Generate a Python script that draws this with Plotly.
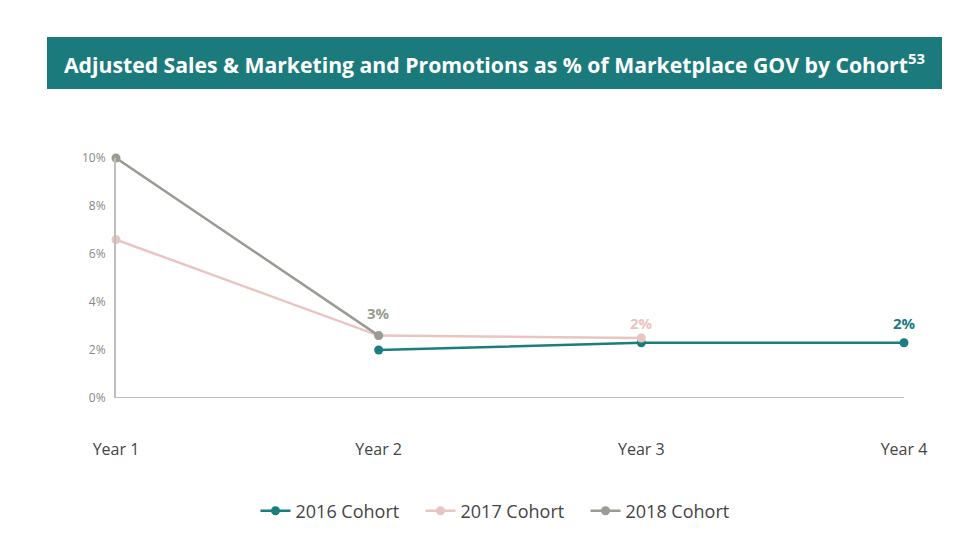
import plotly.graph_objects as go

years = ["Year 1", "Year 2", "Year 3", "Year 4"]
cohort_2016 = [None, 2.0, 2.3, 2.3]
cohort_2017 = [6.6, 2.6, 2.5, None]
cohort_2018 = [10.0, 2.6, None, None]
y_ticks = [0, 2, 4, 6, 8, 10]
y_tick_labels = ["0%", "2%", "4%", "6%", "8%", "10%"]

# (series index, year index, label)
labels = [(2, 1, "3%"), (1, 2, "2%"), (0, 3, "2%")]
label_shifts = [23, 15, 20]

series = [
    ("2016 Cohort", cohort_2016, "#1b7d7e"),
    ("2017 Cohort", cohort_2017, "#e8c5c1"),
    ("2018 Cohort", cohort_2018, "#9a9b93"),
]

FONT = "Open Sans"

fig = go.Figure()
for name, vals, color in series:
    fig.add_trace(go.Scatter(
        x=years, y=vals, name=name, mode="lines+markers",
        line=dict(color=color, width=2.5),
        marker=dict(color=color, size=9),
        cliponaxis=False,
    ))

for (si, yi, txt), sh in zip(labels, label_shifts):
    name, vals, color = series[si]
    fig.add_annotation(x=years[yi], y=vals[yi], text="<b>" + txt + "</b>",
                       showarrow=False, yshift=sh,
                       font=dict(family=FONT, size=15, color=color))

W, H = 977, 554
L, R, T, B = 116, 73, 158, 156
pw, ph = W - L - R, H - T - B

def px(x):
    return (x - L) / pw

def py(y):
    return (H - B - y) / ph

fig.add_shape(type="rect", xref="paper", yref="paper",
              x0=px(47), x1=px(942), y0=py(89), y1=py(37),
              fillcolor="#1b7b7c", line=dict(width=0), layer="below")
fig.add_annotation(xref="paper", yref="paper", x=px(494.5), y=py(63),
                   text="<b>Adjusted Sales &amp; Marketing and Promotions as % of Marketplace GOV by Cohort<sup>53</sup></b>",
                   showarrow=False, xanchor="center", yanchor="middle",
                   font=dict(family=FONT, size=21.2, color="white"))

fig.update_layout(
    width=W, height=H,
    margin=dict(l=L, r=R, t=T, b=B),
    plot_bgcolor="white", paper_bgcolor="white",
    font=dict(family=FONT, color="#555"),
    showlegend=True,
    legend=dict(orientation="h", x=px(503), xanchor="center", y=py(511), yanchor="middle",
                font=dict(family=FONT, size=18, color="#444"), itemwidth=30,
                entrywidth=120, entrywidthmode="pixels",
                traceorder="normal"),
    xaxis=dict(type="category", range=[0, 3], showgrid=False, zeroline=False,
               showline=False, ticks="outside", ticklen=37, tickcolor="rgba(0,0,0,0)",
               tickfont=dict(family=FONT, size=16, color="#444")),
    yaxis=dict(range=[0, 10], tickvals=y_ticks, ticktext=y_tick_labels,
               showgrid=False, zeroline=False, showline=True, linecolor="#bdbdbd", linewidth=2,
               ticks="", ticklabelstandoff=6,
               tickfont=dict(family=FONT, size=12, color="#888")),
)
# x-axis baseline drawn at the bottom of the value range
fig.add_shape(type="line", xref="paper", yref="y", x0=0, x1=1, y0=y_ticks[0], y1=y_ticks[0],
              line=dict(color="#bdbdbd", width=2), layer="below")

fig.write_html("out.html")
